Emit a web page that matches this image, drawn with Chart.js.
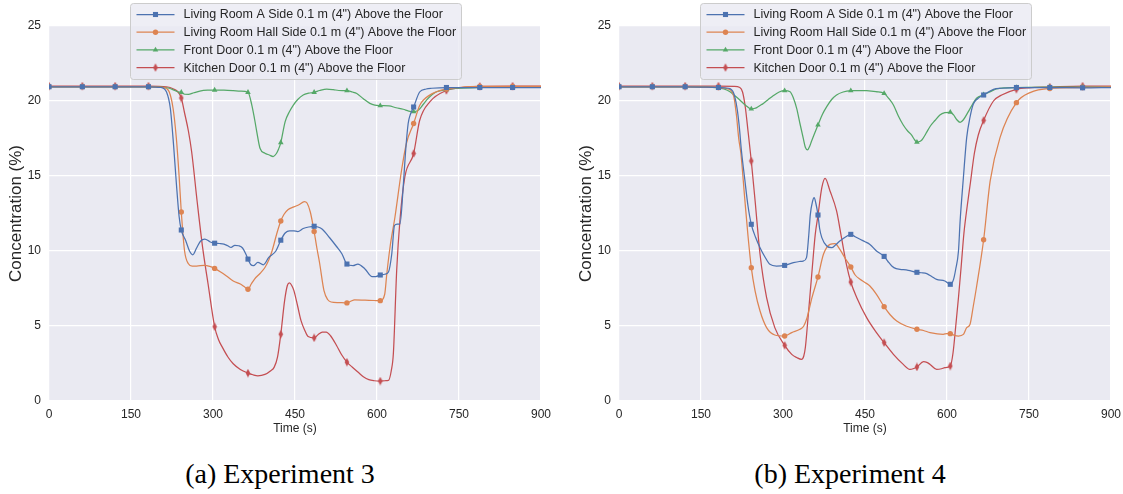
<!DOCTYPE html>
<html><head><meta charset="utf-8">
<script src="https://cdn.jsdelivr.net/npm/chart.js@4.4.1/dist/chart.umd.min.js"></script>
<style>
html,body{margin:0;padding:0;background:#fff;width:1123px;height:494px;overflow:hidden;position:relative;}
.wrap{position:absolute;top:0;}
#w3{left:0;width:560px;height:445px;}
#w4{left:570px;width:560px;height:445px;}
.cap{position:absolute;top:457px;height:34px;line-height:34px;font-family:"Liberation Serif","Times New Roman",serif;font-size:28px;color:#000;text-align:center;white-space:nowrap;}
#cap3{left:130px;width:300px;}
#cap4{left:700px;width:300px;}
</style></head>
<body>
<div class="wrap" id="w3"><canvas id="c3" width="560" height="445"></canvas></div>
<div class="wrap" id="w4"><canvas id="c4" width="560" height="445"></canvas></div>
<div class="cap" id="cap3">(a) Experiment 3</div>
<div class="cap" id="cap4">(b) Experiment 4</div>
<script>
// ---------- data ----------
const seriesNames = [
  'Living Room A Side 0.1 m (4") Above the Floor',
  'Living Room Hall Side 0.1 m (4") Above the Floor',
  'Front Door 0.1 m (4") Above the Floor',
  'Kitchen Door 0.1 m (4") Above the Floor'
];
const xTicks = [0,150,300,450,600,750,900];
const yTicks = [0,5,10,15,20,25];
const markerTimes = [0,61,121,182,242,303,364,424,485,545,606,667,727,788,848];

// Experiment 3: [time (s), concentration (%)]
const exp3LivingA = [[0,20.95],[61,20.95],[121,20.95],[182,20.95],[205,20.9],[215,20.6],[222,19.5],[228,17.0],[233,14.5],[238,12.3],[242,11.4],[250,10.7],[257,10.0],[263,9.75],[270,10.2],[277,10.65],[285,10.8],[295,10.6],[303,10.52],[312,10.5],[320,10.46],[327,10.35],[333,10.24],[340,10.38],[347,10.35],[354,10.2],[360,9.8],[364,9.46],[369,9.1],[374,9.02],[382,9.24],[392,9.08],[402,9.57],[415,10.0],[424,10.72],[432,11.2],[440,11.35],[448,11.35],[455,11.3],[465,11.5],[475,11.6],[485,11.65],[492,11.6],[500,11.45],[513,10.9],[526,10.3],[536,9.8],[545,9.13],[556,9.02],[565,9.13],[578,8.8],[591,8.3],[598,8.3],[606,8.4],[614,8.45],[621,8.6],[627,9.8],[632,11.7],[637,11.8],[642,11.8],[648,14.3],[652,16.5],[657,18.5],[661,19.1],[667,19.6],[678,20.6],[690,20.8],[700,20.85],[727,20.9],[788,20.9],[848,20.9],[900,20.9]];
const exp3LivingHall = [[0,20.95],[61,20.95],[121,20.95],[182,20.95],[210,20.9],[220,20.6],[227,19.5],[233,17.5],[238,15.0],[242,12.6],[248,10.0],[255,9.15],[262,9.0],[270,9.0],[284,9.05],[294,8.98],[303,8.84],[314,8.6],[324,8.35],[337,8.0],[350,7.8],[358,7.6],[364,7.45],[370,7.8],[376,8.13],[386,8.5],[395,8.9],[402,9.4],[408,10.0],[417,11.2],[424,12.0],[430,12.45],[437,12.75],[448,12.94],[458,13.1],[467,13.3],[472,13.2],[478,12.6],[485,11.3],[490,10.2],[495,9.2],[503,7.36],[510,6.75],[516,6.6],[530,6.56],[545,6.54],[552,6.65],[559,6.74],[578,6.72],[595,6.7],[606,6.69],[614,7.1],[618,8.5],[624,10.3],[633,12.3],[645,15.4],[654,17.2],[667,18.5],[678,19.7],[685,20.07],[709,20.62],[727,20.8],[750,20.9],[788,20.97],[848,20.97],[900,20.97]];
const exp3FrontDoor = [[0,20.95],[61,20.95],[121,20.95],[182,20.95],[205,20.93],[220,20.85],[230,20.7],[237,20.6],[242,20.58],[248,20.45],[255,20.44],[265,20.55],[276,20.66],[290,20.72],[303,20.73],[320,20.72],[337,20.69],[350,20.66],[364,20.58],[371,19.73],[376,18.8],[380,17.96],[386,16.85],[395,16.52],[403,16.4],[410,16.3],[416,16.5],[420,16.8],[424,17.23],[432,18.63],[440,19.3],[447,19.73],[455,20.1],[465,20.4],[475,20.52],[485,20.58],[495,20.7],[508,20.8],[520,20.76],[530,20.7],[545,20.69],[555,20.6],[563,20.5],[575,20.15],[587,19.84],[596,19.72],[606,19.69],[622,19.67],[635,19.55],[648,19.45],[658,19.33],[667,19.29],[676,19.4],[684,19.75],[691,20.07],[700,20.4],[709,20.62],[727,20.75],[750,20.85],[788,20.9],[848,20.92],[900,20.92]];
const exp3KitchenDoor = [[0,21.0],[61,21.0],[121,21.0],[182,21.0],[215,20.95],[228,20.8],[236,20.6],[242,20.2],[248,19.2],[255,18.0],[261,16.6],[271,13.3],[281,10.24],[291,7.8],[303,4.95],[310,4.1],[317,3.59],[327,2.95],[337,2.48],[350,2.1],[364,1.86],[373,1.75],[382,1.68],[395,1.77],[405,2.0],[412,2.26],[418,2.92],[424,4.45],[431,6.69],[436,7.7],[440,7.87],[444,7.7],[448,7.36],[455,6.3],[461,5.36],[468,4.7],[474,4.3],[485,4.21],[493,4.45],[500,4.59],[507,4.6],[515,4.35],[526,3.7],[535,3.1],[545,2.59],[555,2.25],[565,1.93],[575,1.62],[585,1.42],[595,1.35],[606,1.33],[615,1.35],[621,1.37],[626,2.0],[630,3.2],[636,8.7],[642,12.07],[651,14.95],[667,16.5],[678,18.7],[697,19.96],[727,20.7],[750,20.88],[788,20.98],[848,21.0],[900,21.0]];

// Experiment 4
const exp4LivingA = [[0,20.95],[61,20.95],[121,20.95],[182,20.9],[200,20.85],[210,20.5],[216,19.5],[220,18.3],[224,16.67],[230,14.8],[236,13.0],[242,11.78],[250,10.9],[258,10.22],[267,9.6],[276,9.11],[288,9.0],[303,9.04],[319,9.22],[330,9.3],[337,9.33],[343,9.56],[347,11.0],[350,12.44],[354,13.3],[357,13.56],[360,13.2],[364,12.4],[367,11.5],[371,10.89],[380,10.33],[389,10.22],[396,10.4],[404,10.67],[415,10.95],[424,11.11],[432,10.95],[441,10.78],[450,10.62],[459,10.44],[471,10.0],[485,9.64],[492,9.3],[499,9.0],[507,8.82],[514,8.78],[529,8.71],[545,8.58],[553,8.55],[563,8.49],[572,8.3],[581,8.11],[596,8.0],[606,7.78],[612,8.11],[616,8.8],[621,10.0],[624,12.0],[630,14.9],[636,17.56],[642,18.9],[648,19.78],[656,20.15],[667,20.4],[685,20.78],[700,20.85],[727,20.9],[788,20.9],[848,20.88],[900,20.9]];
const exp4LivingHall = [[0,20.95],[61,20.95],[121,20.95],[182,20.9],[200,20.8],[210,20.3],[215,19.0],[219,17.5],[223,16.5],[230,13.5],[236,11.0],[242,8.89],[249,7.33],[258,6.0],[270,4.89],[285,4.4],[303,4.33],[316,4.56],[331,4.78],[338,5.0],[344,5.56],[353,6.89],[364,8.27],[374,9.78],[386,10.44],[395,10.49],[404,10.11],[414,9.5],[424,8.93],[432,8.4],[441,8.11],[450,7.9],[459,7.67],[471,7.11],[485,6.29],[496,5.75],[508,5.33],[525,5.0],[545,4.78],[557,4.7],[569,4.56],[593,4.44],[600,4.5],[606,4.49],[612,4.4],[621,4.33],[630,4.44],[636,4.89],[642,5.1],[648,6.3],[654,7.6],[667,10.75],[679,14.67],[697,17.56],[727,19.89],[752,20.56],[788,20.84],[848,20.9],[900,20.95]];
const exp4FrontDoor = [[0,20.95],[61,20.95],[121,20.95],[182,20.88],[192,20.8],[203,20.62],[212,20.35],[221,20.07],[232,19.7],[242,19.47],[247,19.5],[252,19.56],[258,19.7],[264,19.84],[273,20.1],[282,20.35],[293,20.6],[303,20.69],[313,20.62],[319,20.2],[325,19.51],[331,18.5],[337,17.52],[341,16.9],[345,16.74],[349,17.0],[352,17.3],[364,18.4],[372,19.1],[380,19.62],[389,20.1],[398,20.4],[410,20.6],[424,20.69],[440,20.7],[453,20.69],[470,20.62],[485,20.5],[494,20.15],[502,19.73],[511,19.0],[520,18.4],[528,18.0],[535,17.74],[541,17.4],[545,17.25],[550,17.3],[554,17.4],[561,17.8],[569,18.3],[578,18.7],[587,19.07],[596,19.22],[606,19.25],[612,19.07],[618,18.75],[624,18.58],[630,18.75],[639,19.29],[647,19.8],[654,20.18],[667,20.42],[678,20.6],[690,20.8],[708,20.88],[727,20.9],[788,20.93],[848,20.93],[900,20.93]];
const exp4KitchenDoor = [[0,21.0],[61,21.0],[121,21.0],[182,21.0],[210,20.98],[221,20.9],[226,20.6],[231,19.6],[236,18.0],[242,16.0],[249,13.33],[258,9.78],[270,6.89],[285,4.89],[303,3.71],[316,3.11],[325,2.9],[334,2.78],[338,3.0],[341,3.6],[345,5.2],[350,7.33],[355,9.5],[359,11.11],[364,12.38],[371,14.22],[377,14.84],[386,14.0],[398,12.67],[407,10.89],[416,9.11],[424,7.93],[435,6.89],[453,5.56],[471,4.56],[485,3.89],[502,3.11],[520,2.44],[532,2.11],[538,2.15],[545,2.27],[557,2.62],[563,2.58],[569,2.44],[581,2.11],[590,2.15],[596,2.22],[606,2.33],[611,3.2],[616,5.0],[621,6.9],[626,9.0],[631,11.2],[637,13.0],[643,14.6],[650,16.5],[657,17.7],[667,18.71],[685,20.0],[700,20.4],[727,20.78],[750,20.88],[788,20.93],[848,21.0],[900,21.0]];

// ---------- styles ----------
const colors = ['#4C72B0','#DD8452','#55A868','#C44E52'];
function thinDiamond(){
  const c = document.createElement('canvas'); c.width = 6; c.height = 9;
  const g = c.getContext('2d'); g.fillStyle = '#C44E52';
  g.beginPath(); g.moveTo(3,0.3); g.lineTo(5.3,4.5); g.lineTo(3,8.7); g.lineTo(0.7,4.5); g.closePath(); g.fill();
  return c;
}
const diamondImg = thinDiamond();
const pointStyles = ['rect','circle','triangle',diamondImg];
const pointRadii = [3.6,2.7,3.2,3.5];

function isMarker(x){ return markerTimes.some(m => Math.abs(m - x) < 0.01); }

function makeDatasets(list){
  return list.map((arr,i) => ({
    label: seriesNames[i],
    data: arr.map(p => ({x:p[0], y:p[1]})),
    borderColor: colors[i],
    backgroundColor: colors[i],
    borderWidth: 1.25,
    pointStyle: pointStyles[i],
    pointRadius: ctx => (ctx.raw && isMarker(ctx.raw.x)) ? pointRadii[i] : 0,
    pointHoverRadius: 0,
    pointBorderWidth: 0,
    pointBackgroundColor: colors[i],
    pointBorderColor: colors[i],
    cubicInterpolationMode: 'monotone',
    tension: 0.4
  }));
}

const bgPlugin = {
  id:'bgPlot',
  beforeDraw(chart){
    const {ctx, chartArea:a} = chart;
    ctx.save(); ctx.fillStyle = '#EAEAF2';
    ctx.fillRect(a.left, a.top, a.right - a.left, a.bottom - a.top);
    ctx.restore();
  }
};

const legendPlugin = {
  id:'lineLegend',
  afterDraw(chart){
    const {ctx, chartArea:a} = chart;
    const w = 331, h = 76;
    const x0 = Math.round((a.left + a.right)/2 - w/2) + 0.5, y0 = 3.5;
    ctx.save();
    ctx.beginPath();
    const r = 3;
    ctx.moveTo(x0+r,y0); ctx.lineTo(x0+w-r,y0); ctx.quadraticCurveTo(x0+w,y0,x0+w,y0+r);
    ctx.lineTo(x0+w,y0+h-r); ctx.quadraticCurveTo(x0+w,y0+h,x0+w-r,y0+h);
    ctx.lineTo(x0+r,y0+h); ctx.quadraticCurveTo(x0,y0+h,x0,y0+h-r);
    ctx.lineTo(x0,y0+r); ctx.quadraticCurveTo(x0,y0,x0+r,y0); ctx.closePath();
    ctx.fillStyle = 'rgba(234,234,242,0.8)'; ctx.fill();
    ctx.strokeStyle = '#CCCCCC'; ctx.lineWidth = 1; ctx.stroke();
    chart.data.datasets.forEach((ds,i) => {
      const y = y0 + 11 + i*17.7;
      ctx.strokeStyle = ds.borderColor; ctx.lineWidth = 1.25;
      ctx.beginPath(); ctx.moveTo(x0+6, y); ctx.lineTo(x0+44, y); ctx.stroke();
      ctx.fillStyle = ds.borderColor; ctx.strokeStyle = ds.borderColor;
      Chart.helpers.drawPoint(ctx, {pointStyle: pointStyles[i], radius: pointRadii[i], rotation: 0, borderWidth: 0}, x0+25, y);
      ctx.fillStyle = '#262626';
      ctx.font = '12.5px "Liberation Sans", Arial, sans-serif';
      ctx.textBaseline = 'middle'; ctx.textAlign = 'left';
      ctx.fillText(ds.label, x0+53, y+0.5);
    });
    ctx.restore();
  }
};

function makeChart(id, list, rightPad){
  return new Chart(document.getElementById(id), {
    type:'line',
    data:{ datasets: makeDatasets(list) },
    plugins:[bgPlugin, legendPlugin],
    options:{
      responsive:false, animation:false, devicePixelRatio:1,
      layout:{ padding:{ top:26, right:rightPad, left:0, bottom:0 } },
      plugins:{ legend:{display:false}, tooltip:{enabled:false} },
      scales:{
        x:{
          type:'linear', min:0, max:900,
          afterBuildTicks: s => { s.ticks = xTicks.map(v => ({value:v})); },
          afterFit: s => { s.height = 44; },
          grid:{ color:'#FFFFFF', lineWidth:1.2, drawTicks:false },
          border:{ display:false },
          ticks:{ padding:6, color:'#262626', font:{ family:'"Liberation Sans", Arial, sans-serif', size:12 }, maxRotation:0 },
          title:{ display:true, text:'Time (s)', color:'#262626', padding:{top:0,bottom:9}, font:{ family:'"Liberation Sans", Arial, sans-serif', size:12 } }
        },
        y:{
          type:'linear', min:0, max:25,
          afterBuildTicks: s => { s.ticks = yTicks.map(v => ({value:v})); },
          afterFit: s => { s.width = 49; },
          grid:{ color:'#FFFFFF', lineWidth:1.2, drawTicks:false },
          border:{ display:false },
          ticks:{ padding:8, color:'#262626', font:{ family:'"Liberation Sans", Arial, sans-serif', size:12 } },
          title:{ display:true, text:'Concentration (%)', color:'#262626', padding:{top:6,bottom:0}, font:{ family:'"Liberation Sans", Arial, sans-serif', size:17 } }
        }
      }
    }
  });
}

makeChart('c3', [exp3LivingA, exp3LivingHall, exp3FrontDoor, exp3KitchenDoor], 19);
makeChart('c4', [exp4LivingA, exp4LivingHall, exp4FrontDoor, exp4KitchenDoor], 19);
</script>
</body></html>
